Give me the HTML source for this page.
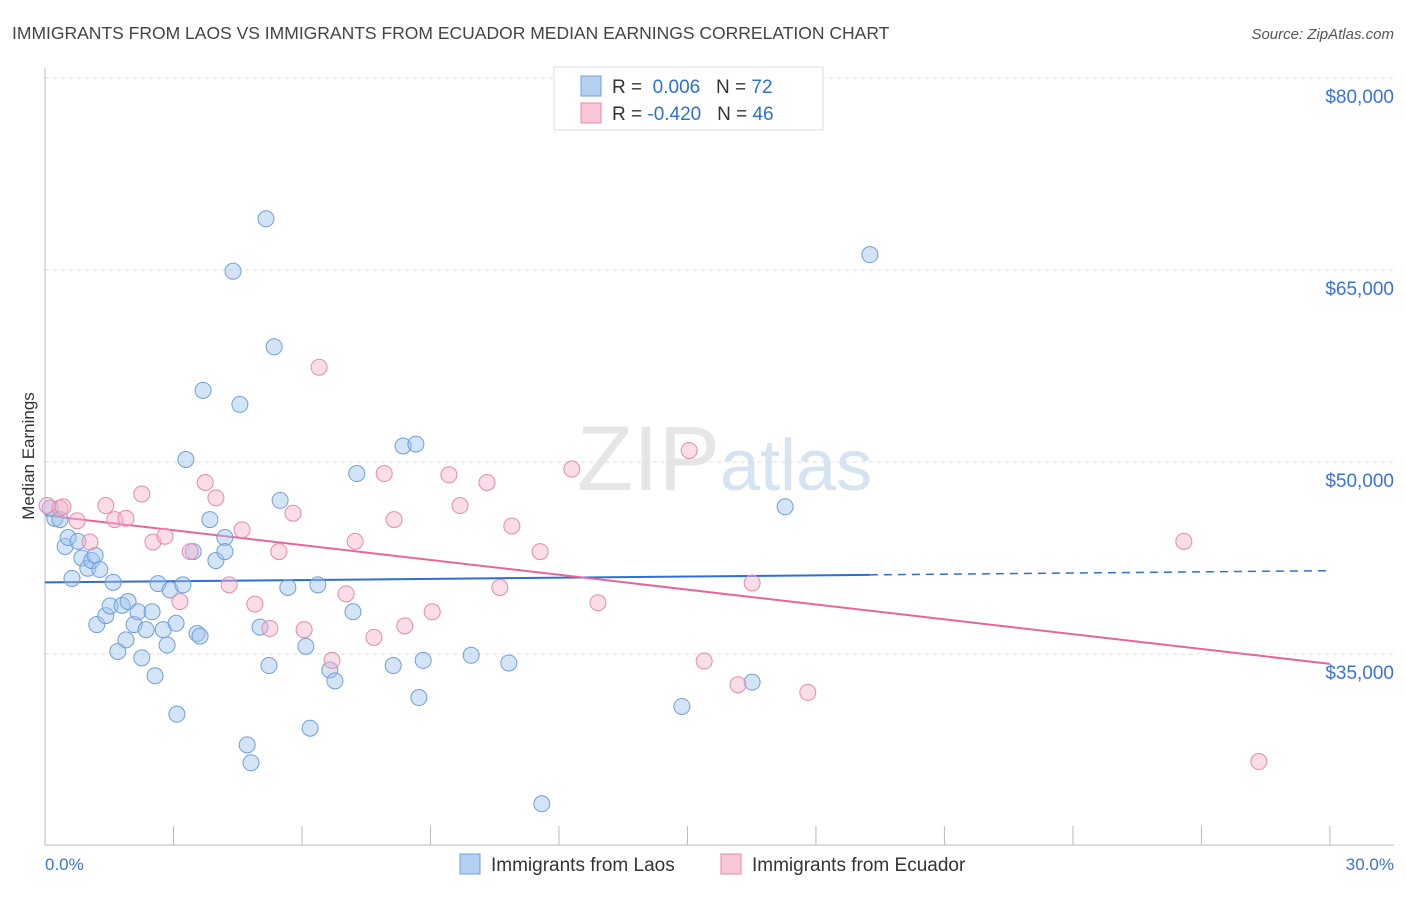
<!DOCTYPE html>
<html><head><meta charset="utf-8"><style>
body{margin:0;background:#fff;font-family:"Liberation Sans",sans-serif}
svg text{font-family:"Liberation Sans",sans-serif}
</style></head><body>
<svg id="chart" width="1406" height="892" xmlns="http://www.w3.org/2000/svg">
<text x="12" y="39" font-size="17.5" fill="#444">IMMIGRANTS FROM LAOS VS IMMIGRANTS FROM ECUADOR MEDIAN EARNINGS CORRELATION CHART</text>
<text x="1394" y="39" font-size="15" fill="#555" font-style="italic" text-anchor="end">Source: ZipAtlas.com</text>
<text x="720" y="490" font-size="92" fill="#e6e6e6" text-anchor="end" font-family="Liberation Serif">ZIP</text>
<text x="720" y="490" font-size="72" fill="#d5e3f3">atlas</text>
<g id="grid"></g><g id="axes"></g><g id="trend"></g><g id="pts"></g>
<text x="34" y="456" font-size="17" fill="#333" text-anchor="middle" transform="rotate(-90 34 456)">Median Earnings</text>
<text x="45" y="870" font-size="17" fill="#3a73d6">0.0%</text>
<text x="1394" y="870" font-size="17" fill="#3a73d6" text-anchor="end">30.0%</text>
<g>
<rect x="554" y="67" width="269" height="63" fill="#fff" stroke="#ddd"/>
<rect x="581" y="76" width="20" height="20" fill="#b4d0f2" stroke="#6f9fdc"/>
<rect x="581" y="103" width="20" height="20" fill="#f8c6d6" stroke="#e88aa8"/>
<text x="612" y="93" font-size="19" fill="#333">R = <tspan fill="#2d6fd6">&#160;0.006</tspan>&#160;&#160;&#160;N = <tspan fill="#2d6fd6">72</tspan></text>
<text x="612" y="120" font-size="19" fill="#333">R = <tspan fill="#2d6fd6">-0.420</tspan>&#160;&#160;&#160;N = <tspan fill="#2d6fd6">46</tspan></text>
</g>
<g>
<rect x="460" y="854" width="20" height="20" fill="#b4d0f2" stroke="#6f9fdc"/>
<text x="491" y="871" font-size="19" fill="#333">Immigrants from Laos</text>
<rect x="721" y="854" width="20" height="20" fill="#f8c6d6" stroke="#e88aa8"/>
<text x="752" y="871" font-size="19" fill="#333">Immigrants from Ecuador</text>
</g>
</svg>
<script>
const yTicks=[35,50,65,80];
const xTicks=[0,3,6,9,12,15,18,21,24,27,30];
const laosX=[0.12,0.23,0.35,0.47,0.54,0.63,0.77,0.86,1.00,1.09,1.17,1.21,1.28,1.42,1.52,1.59,1.70,1.80,1.89,1.94,2.08,2.17,2.26,2.36,2.50,2.57,2.64,2.76,2.85,2.92,3.06,3.08,3.22,3.29,3.46,3.55,3.62,3.69,3.85,3.99,4.20,4.20,4.39,4.55,4.72,4.81,5.02,5.16,5.23,5.35,5.49,5.67,6.09,6.19,6.37,6.65,6.77,7.19,7.28,8.13,8.36,8.66,8.73,8.83,9.95,10.83,11.60,14.87,16.51,17.28,19.26];
const laosY=[46.4,45.6,45.5,43.4,44.1,40.9,43.8,42.5,41.7,42.3,42.7,37.3,41.6,38.0,38.75,40.6,35.2,38.8,36.1,39.1,37.3,38.3,34.7,36.9,38.3,33.3,40.5,36.9,35.7,40.0,37.4,30.3,40.4,50.2,43.0,36.6,36.4,55.6,45.5,42.3,44.1,43.0,64.9,54.5,27.9,26.5,37.1,69.0,34.1,59.0,47.0,40.2,35.6,29.2,40.4,33.75,32.9,38.3,49.1,34.1,51.25,51.4,31.6,34.5,34.9,34.3,23.3,30.9,32.8,46.5,66.2];
const ecuX=[0.05,0.35,0.42,0.75,1.05,1.42,1.63,1.89,2.26,2.52,2.80,3.15,3.39,3.74,3.99,4.30,4.60,4.90,5.25,5.46,5.79,6.05,6.40,6.70,7.03,7.24,7.68,7.92,8.15,8.40,9.04,9.43,9.69,10.32,10.62,10.90,11.56,12.30,12.91,15.04,15.39,16.18,16.51,17.81,26.59,28.34];
const ecuY=[46.6,46.4,46.5,45.4,43.75,46.6,45.5,45.6,47.5,43.75,44.2,39.1,43.0,48.4,47.2,40.4,44.7,38.9,37.0,43.0,46.0,36.9,57.4,34.5,39.7,43.8,36.3,49.1,45.5,37.2,38.3,49.0,46.6,48.4,40.2,45.0,43.0,49.45,39.0,50.9,34.45,32.6,40.55,32.0,43.8,26.6];
const NS="http://www.w3.org/2000/svg";
const sx=v=>45+v*42.83, sy=v=>78+(80-v)*12.8;
function mk(parent,tag,attrs){const e=document.createElementNS(NS,tag);for(const k in attrs)e.setAttribute(k,attrs[k]);document.getElementById(parent).appendChild(e);return e;}
yTicks.forEach(t=>{
 const l=mk('grid','line',{x1:45,x2:1394,y1:sy(t),y2:sy(t),stroke:'#ddd','stroke-dasharray':'4,4'});
 
 
 const tx=mk('grid','text',{x:1394,y:sy(t)+25,'font-size':19,fill:'#3a73d6','text-anchor':'end'});
 tx.textContent='$'+t+',000';
 
 
});
const ax=mk('axes','line',{x1:45,x2:1394,y1:845,y2:845,stroke:'#bbb'});


const ay=mk('axes','line',{x1:45,x2:45,y1:68,y2:845,stroke:'#bbb'});


xTicks.forEach(t=>{
 const l=mk('axes','line',{x1:sx(t),x2:sx(t),y1:826,y2:845,stroke:'#bbb'});
 
 
});
function fit(X,Y){const n=X.length;let mx=0,my=0;for(let i=0;i<n;i++){mx+=X[i];my+=Y[i];}mx/=n;my/=n;let a=0,b=0;for(let i=0;i<n;i++){a+=(X[i]-mx)*(Y[i]-my);b+=(X[i]-mx)**2;}const s=a/b;return x=>my+s*(x-mx);}
const fl=fit(laosX,laosY), fe=fit(ecuX,ecuY);
const xmaxL=Math.max(...laosX);
let t1=mk('trend','line',{x1:sx(0),y1:sy(fl(0)),x2:sx(xmaxL),y2:sy(fl(xmaxL)),stroke:'#2d6fd6','stroke-width':2});


let t2=mk('trend','line',{x1:sx(xmaxL),y1:sy(fl(xmaxL)),x2:sx(30),y2:sy(fl(30)),stroke:'#2d6fd6','stroke-width':1.5,'stroke-dasharray':'8,6'});


let t3=mk('trend','line',{x1:sx(0),y1:sy(fe(0)),x2:sx(30),y2:sy(fe(30)),stroke:'#e5679a','stroke-width':2});


laosX.forEach((x,i)=>{
 const c=mk('pts','circle',{cx:sx(x),cy:sy(laosY[i]),r:8,fill:'rgba(160,195,238,0.45)',stroke:'#6f9fdc','stroke-width':1});
 
 
});
ecuX.forEach((x,i)=>{
 const c=mk('pts','circle',{cx:sx(x),cy:sy(ecuY[i]),r:8,fill:'rgba(245,180,203,0.45)',stroke:'#e88aa8','stroke-width':1});
 
 
});
</script>
</body></html>
